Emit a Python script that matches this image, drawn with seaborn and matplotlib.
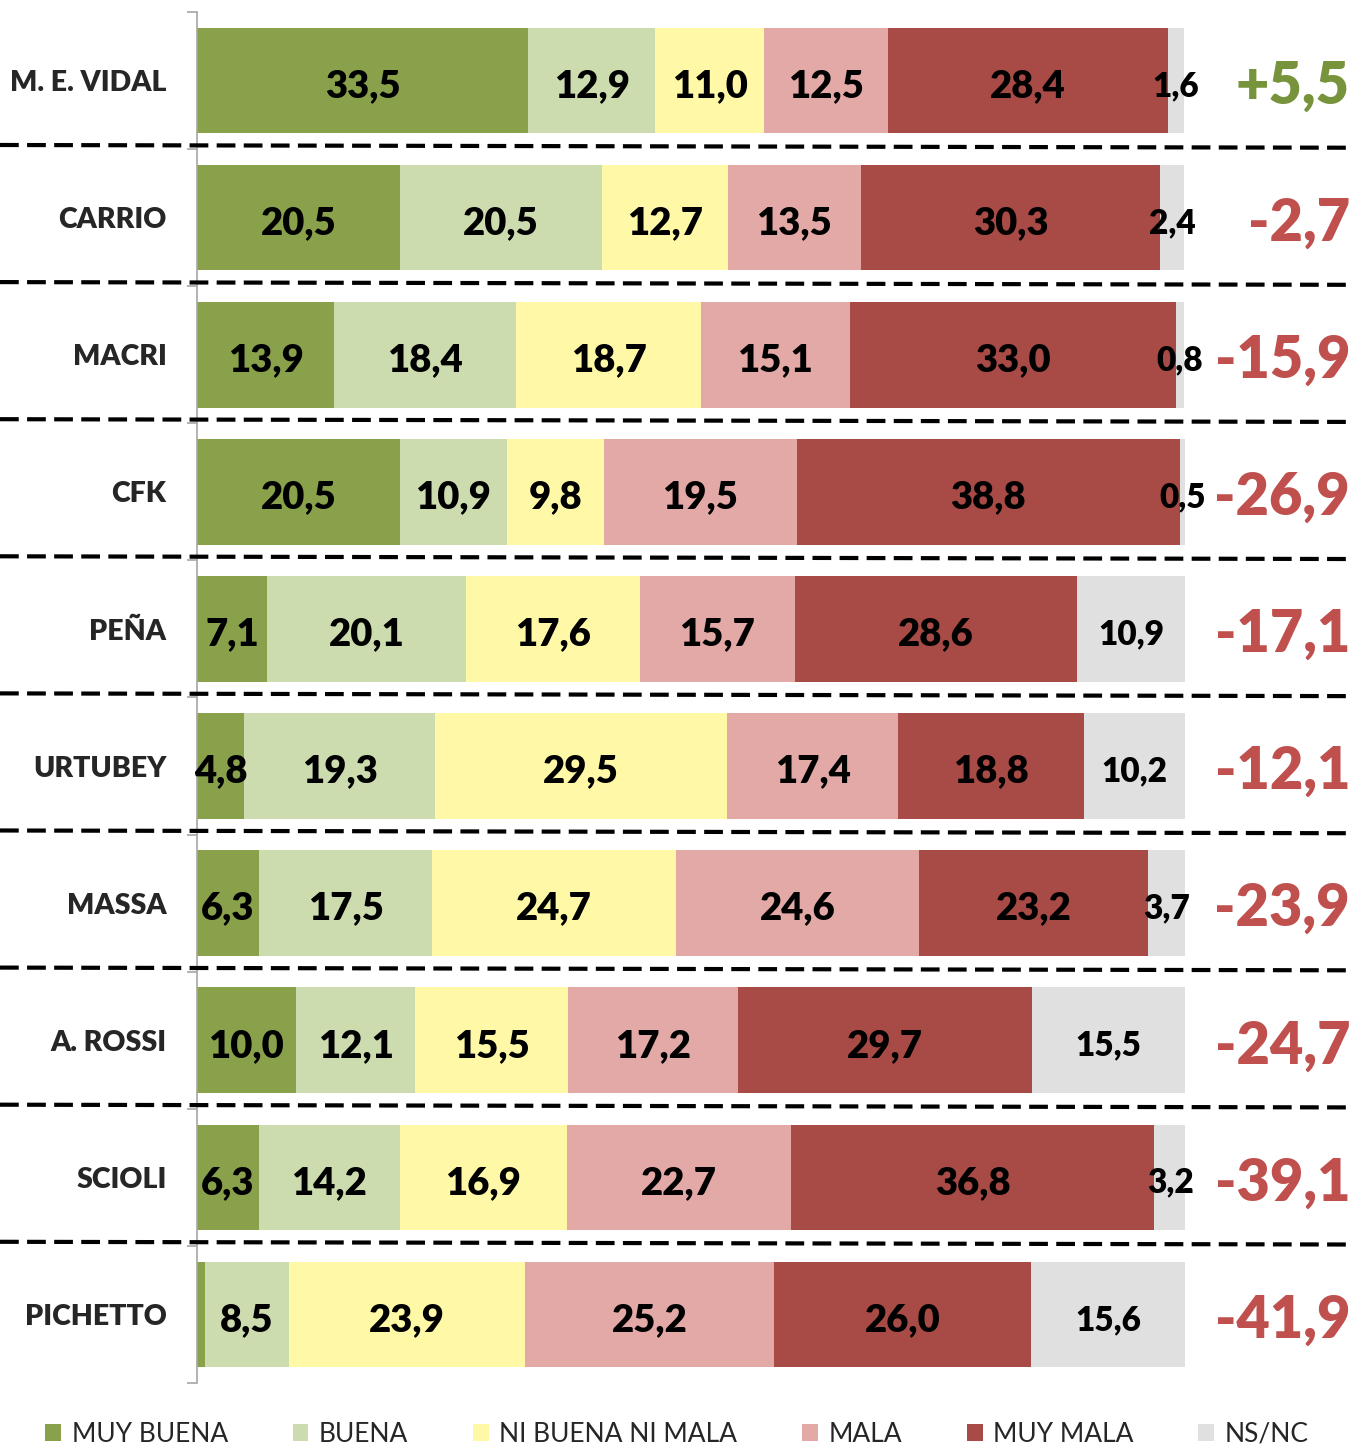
import numpy as np
import pandas as pd
import matplotlib
matplotlib.use("Agg")
import matplotlib.pyplot as plt
import matplotlib.transforms as mtransforms
from matplotlib.lines import Line2D
from matplotlib.patches import Patch
import seaborn as sns

categories = ["M. E. VIDAL", "CARRIO", "MACRI", "CFK", "PEÑA", "URTUBEY",
              "MASSA", "A. ROSSI", "SCIOLI", "PICHETTO"]
muy_buena = [33.5, 20.5, 13.9, 20.5, 7.1, 4.8, 6.3, 10.0, 6.3, 0.8]
buena = [12.9, 20.5, 18.4, 10.9, 20.1, 19.3, 17.5, 12.1, 14.2, 8.5]
ni_buena_ni_mala = [11.0, 12.7, 18.7, 9.8, 17.6, 29.5, 24.7, 15.5, 16.9, 23.9]
mala = [12.5, 13.5, 15.1, 19.5, 15.7, 17.4, 24.6, 17.2, 22.7, 25.2]
muy_mala = [28.4, 30.3, 33.0, 38.8, 28.6, 18.8, 23.2, 29.7, 36.8, 26.0]
ns_nc = [1.6, 2.4, 0.8, 0.5, 10.9, 10.2, 3.7, 15.5, 3.2, 15.6]
net_labels = ["+5,5", "-2,7", "-15,9", "-26,9", "-17,1", "-12,1",
              "-23,9", "-24,7", "-39,1", "-41,9"]
series_names = ["MUY BUENA", "BUENA", "NI BUENA NI MALA", "MALA", "MUY MALA", "NS/NC"]

colors = ["#8AA14B", "#CDDCAF", "#FFF8A6", "#E3A9A7", "#A84A45", "#E0E0E0"]

sns.set_theme(style="white")
plt.rcParams['font.family'] = ['Lato', 'DejaVu Sans']
WEIGHT = "heavy"

W, H = 1354, 1449
fig = plt.figure(figsize=(W / 100, H / 100), dpi=100)
ax = fig.add_axes([197 / W, 1 - 1383 / H, (1185 - 197) / W, (1383 - 12) / H])

series = [muy_buena, buena, ni_buena_ni_mala, mala, muy_mala, ns_nc]
cum = np.cumsum(np.array(series), axis=0)

# draw cumulative bars from the largest to the smallest so segments stack
for i in range(len(series) - 1, -1, -1):
    df = pd.DataFrame({"cat": categories, "val": cum[i]})
    sns.barplot(data=df, x="val", y="cat", orient="h", color=colors[i],
                saturation=1, width=0.77, errorbar=None, linewidth=0, ax=ax)

# value labels
for i, s in enumerate(series):
    starts = cum[i] - np.array(s)
    for j, v in enumerate(s):
        if i == 0 and v < 1:
            continue
        fs = 24 if i == 5 else 27.5
        ax.text(starts[j] + v / 2, j + 0.04, f"{v:.1f}".replace('.', ','),
                ha="center", va="center", fontsize=fs, fontweight=WEIGHT, color="black")

ax.set_xlim(0, 100)
ax.set_ylim(9.5, -0.5)
ax.set_xlabel("")
ax.set_ylabel("")
ax.set_xticks([])
for sp in ["top", "right", "bottom"]:
    ax.spines[sp].set_visible(False)
ax.spines["left"].set_color("#A6A6A6")
ax.spines["left"].set_linewidth(1.2)
ax.set_yticks(range(len(categories)))
ax.set_yticklabels(categories, fontsize=20.5, fontweight=WEIGHT)
ax.tick_params(axis="y", which="major", length=0, pad=22)
ax.set_yticks(np.arange(-0.5, 10, 1), minor=True)
ax.tick_params(axis="y", which="minor", length=7, width=1.2, color="#A6A6A6", left=True)

# net values on the right
trans = mtransforms.blended_transform_factory(fig.transFigure, ax.transData)
for j, lab in enumerate(net_labels):
    col = "#77933C" if lab.startswith("+") else "#C0504D"
    ax.text(1350 / W, j + 0.04, lab, transform=trans, ha="right", va="center",
            fontsize=41.5, fontweight=WEIGHT, color=col, clip_on=False)

# dashed separators across the full width
for k in range(len(categories) - 1):
    ln = Line2D([0, 1], [k + 0.47, k + 0.49], transform=trans, color="black",
                linewidth=3, dashes=(4.5, 2), clip_on=False)
    fig.add_artist(ln)

handles = [Patch(facecolor=c, edgecolor="none") for c in colors]
fig.legend(handles, series_names, loc="center", bbox_to_anchor=(0.5, 1 - 1434 / H),
           ncol=6, frameon=False, fontsize=19, handlelength=0.6, handleheight=0.6,
           handletextpad=0.4, columnspacing=2.45, borderaxespad=0, borderpad=0)

fig.savefig("out.png", dpi=100)
